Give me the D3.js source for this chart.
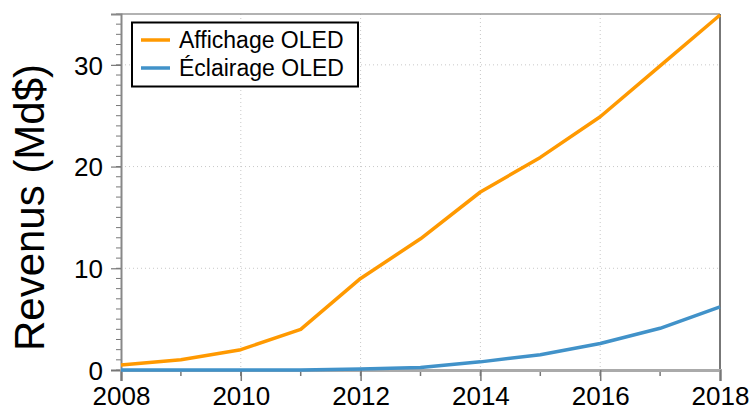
<!DOCTYPE html>
<html><head><meta charset="utf-8">
<script src="https://cdn.jsdelivr.net/npm/d3@7"></script>
<style>body{margin:0;background:#fff}svg{display:block}text{font-family:"Liberation Sans",Arial,sans-serif}</style>
</head><body><svg id="c" width="751" height="410"></svg>
<script>
const years = [2008,2009,2010,2011,2012,2013,2014,2015,2016,2017,2018];
const affichage = [0.5,1.0,2.0,4.0,9.0,12.9,17.5,20.9,24.9,29.9,34.9];
const eclairage = [0,0,0,0,0.1,0.25,0.8,1.5,2.6,4.1,6.2];
const seriesNames = ["Affichage OLED","Éclairage OLED"];
const seriesColors = ["#ff9900","#4192c9"];
const xTickLabels = ["2008","2010","2012","2014","2016","2018"];
const yTickLabels = ["0","10","20","30"];
const yLabel = "Revenus (Md$)";

const svg = d3.select("#c");
const L=121, R=720, T=14, B=370;
const x = d3.scaleLinear().domain([2008,2018]).range([L,R]);
const y = d3.scaleLinear().domain([0,35]).range([B,T]);

// grid
const g = svg.append("g");
xTickLabels.map(Number).filter(v=>v>2008&&v<2018).forEach(v=>{
  g.append("line").attr("x1",x(v)).attr("x2",x(v)).attr("y1",T).attr("y2",B)
   .attr("stroke","#c8c8c8").attr("stroke-width",1).attr("stroke-dasharray","1,3");
});
yTickLabels.map(Number).filter(v=>v>0).forEach(v=>{
  g.append("line").attr("x1",L).attr("x2",R).attr("y1",y(v)).attr("y2",y(v))
   .attr("stroke","#c8c8c8").attr("stroke-width",1).attr("stroke-dasharray","1,3");
});

// frame
svg.append("line").attr("x1",L).attr("x2",R).attr("y1",T).attr("y2",T).attr("stroke","#999").attr("stroke-width",1.5);
svg.append("line").attr("x1",R).attr("x2",R).attr("y1",T).attr("y2",B).attr("stroke","#777").attr("stroke-width",2);

// minor ticks
const minorY = d3.range(0,36,1);
svg.append("g").selectAll("line").data(minorY).join("line")
  .attr("x1",L-5).attr("x2",L).attr("y1",d=>y(d)).attr("y2",d=>y(d)).attr("stroke","#777").attr("stroke-width",1);
svg.append("g").selectAll("line").data(years).join("line")
  .attr("y1",B).attr("y2",B+6).attr("x1",d=>x(d)).attr("x2",d=>x(d)).attr("stroke","#777").attr("stroke-width",1.5);

// axes
const yAxis = d3.axisLeft(y).tickValues(yTickLabels.map(Number)).tickFormat((d,i)=>yTickLabels[i]).tickSize(10).tickPadding(8);
const ya = svg.append("g").attr("transform",`translate(${L},0)`).call(yAxis);
ya.select(".domain").attr("stroke","#888").attr("stroke-width",2);
ya.selectAll(".tick line").attr("stroke","#777").attr("stroke-width",1.2);
ya.selectAll("text").attr("font-size",26).attr("fill","#000").attr("dy","0.36em");

const xAxis = d3.axisBottom(x).tickValues(xTickLabels.map(Number)).tickFormat((d,i)=>xTickLabels[i]).tickSize(11).tickPadding(6);
const xa = svg.append("g").attr("transform",`translate(0,${B})`).call(xAxis);
xa.select(".domain").attr("stroke","#aaa").attr("stroke-width",3);
xa.selectAll(".tick line").attr("stroke","#777").attr("stroke-width",1.5);
xa.selectAll("text").attr("font-size",26).attr("fill","#000");

// y label
svg.append("text").attr("transform",`translate(44,${(63+352)/2}) rotate(-90)`)
  .attr("text-anchor","middle").attr("font-size",42).attr("fill","#000").text(yLabel);

// lines
const line = d3.line().x((d,i)=>x(years[i])).y(d=>y(d));
[affichage,eclairage].forEach((s,i)=>{
  svg.append("path").datum(s).attr("d",line).attr("fill","none")
    .attr("stroke",seriesColors[i]).attr("stroke-width",3.5).attr("stroke-linejoin","round");
});

// legend
const lg = svg.append("g");
lg.append("rect").attr("x",132).attr("y",22.5).attr("width",226).attr("height",64)
  .attr("fill","#fff").attr("stroke","#000").attr("stroke-width",2);
seriesNames.forEach((n,i)=>{
  const yy = 40 + i*28;
  lg.append("line").attr("x1",141).attr("x2",170).attr("y1",yy).attr("y2",yy)
    .attr("stroke",seriesColors[i]).attr("stroke-width",3.5);
  lg.append("text").attr("x",179).attr("y",yy).attr("dy","0.36em").attr("font-size",23).attr("fill","#000").text(n);
});
</script></body></html>
